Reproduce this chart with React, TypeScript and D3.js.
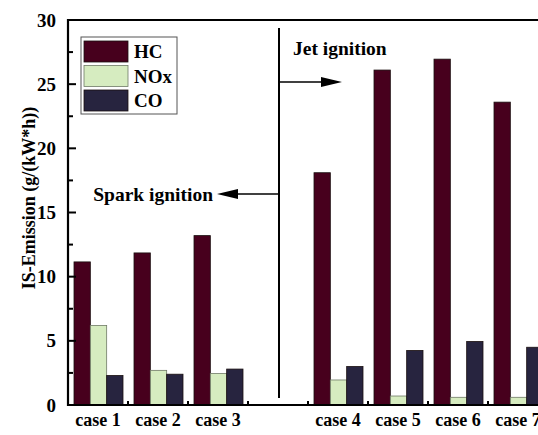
import React from "react";
import * as d3 from "d3";

const slots = ["case 1", "case 2", "case 3", "", "case 4", "case 5", "case 6", "case 7", "case 8"];
const cases = ["case 1", "case 2", "case 3", "case 4", "case 5", "case 6", "case 7"];
const seriesNames = ["HC", "NOx", "CO"];
const hcValues = [11.15, 11.85, 13.2, 18.1, 26.1, 26.95, 23.6];
const noxValues = [6.2, 2.7, 2.45, 1.95, 0.7, 0.6, 0.6];
const coValues = [2.3, 2.4, 2.8, 3.0, 4.25, 4.95, 4.5];
const colors = ["#47001d", "#d6ecc0", "#27243f"];
const yTicks = [0, 5, 10, 15, 20, 25, 30];
const yMinorTicks = [2.5, 7.5, 12.5, 17.5, 22.5, 27.5];

export default function App() {
  const W = 538, H = 435;
  const left = 68, top = 20, bottom = 405;
  const x = d3.scaleBand().domain(slots).range([left, left + 60 * slots.length]).padding(0);
  const y = d3.scaleLinear().domain([0, 30]).range([bottom, top]);
  const sub = d3.scaleBand().domain(seriesNames).range([6, 55]).padding(0);
  const values = [hcValues, noxValues, coValues];
  const font = "\"Liberation Serif\", \"Times New Roman\", Times, serif";
  const divX = 279;
  const boundaries = slots.slice(1).map((s) => x(s) as number);

  return (
    <div style={{ position: "absolute", left: 0, top: 0 }}>
      <svg width={W} height={H} style={{ display: "block", background: "#fff", fontFamily: font, fontWeight: 700 }}>
        {/* bars */}
        {cases.map((c, i) =>
          seriesNames.map((s, j) => {
            const v = values[j][i];
            const bx = (x(c) as number) + (sub(s) as number);
            return (
              <rect key={c + s} x={bx} y={y(v)} width={sub.bandwidth()} height={y(0) - y(v)}
                fill={colors[j]} stroke={j === 1 ? "#6f7a66" : "#1a1010"} strokeWidth={0.8} />
            );
          })
        )}
        {/* axes frame */}
        <line x1={left} y1={top} x2={W} y2={top} stroke="#000" strokeWidth={2.2} />
        <line x1={left} y1={top - 1} x2={left} y2={bottom + 1} stroke="#000" strokeWidth={2.2} />
        <line x1={left - 1} y1={bottom} x2={W} y2={bottom} stroke="#000" strokeWidth={2.2} />
        {yTicks.map((t) => (
          <g key={t}>
            <line x1={left} x2={left + 8} y1={y(t)} y2={y(t)} stroke="#000" strokeWidth={2} />
            <text x={56} y={y(t)} dy="0.35em" textAnchor="end" fontSize={19}>{t}</text>
          </g>
        ))}
        {yMinorTicks.map((t) => (
          <line key={t} x1={left} x2={left + 5} y1={y(t)} y2={y(t)} stroke="#000" strokeWidth={2} />
        ))}
        {boundaries.map((b, i) => (
          <line key={i} x1={b} x2={b} y1={bottom} y2={bottom - 4} stroke="#000" strokeWidth={2} />
        ))}
        {cases.map((c) => (
          <text key={c} x={(x(c) as number) + x.bandwidth() / 2} y={426} textAnchor="middle" fontSize={18}>{c}</text>
        ))}
        {/* y label */}
        <text transform={`translate(29,198) rotate(-90)`} textAnchor="middle" dy="0.35em" fontSize={18}>IS-Emission (g/(kW*h))</text>
        {/* divider & arrows */}
        <line x1={divX} x2={divX} y1={28} y2={398} stroke="#000" strokeWidth={2} />
        <line x1={divX} x2={325} y1={82} y2={82} stroke="#000" strokeWidth={1.6} />
        <path d={`M321,77 L342,82 L321,87 Z`} fill="#000" />
        <line x1={divX} x2={234} y1={194} y2={194} stroke="#000" strokeWidth={1.6} />
        <path d={`M238,189 L217,194 L238,199 Z`} fill="#000" />
        <text x={293} y={55} fontSize={19.5}>Jet ignition</text>
        <text x={213} y={201} textAnchor="end" fontSize={19.5}>Spark ignition</text>
        {/* legend */}
        <rect x={81} y={37} width={96} height={77} fill="#fff" stroke="#555" strokeWidth={1} />
        {seriesNames.map((s, j) => (
          <g key={s}>
            <rect x={84} y={41 + j * 24.5} width={44} height={21} fill={colors[j]} stroke={j === 1 ? "#6f7a66" : "#1a1010"} strokeWidth={0.8} />
            <text x={134} y={41 + j * 24.5 + 10.5} dy="0.35em" fontSize={19}>{s}</text>
          </g>
        ))}
      </svg>
    </div>
  );
}
